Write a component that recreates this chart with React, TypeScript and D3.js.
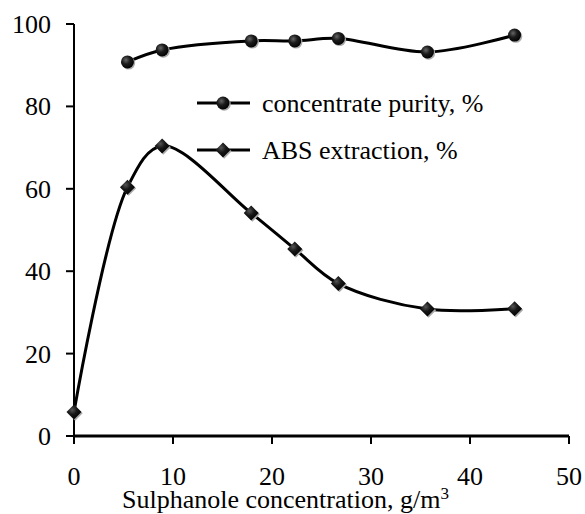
import React, { useEffect, useRef } from "react";
import * as d3 from "d3";

const purityX = [5.4, 8.9, 17.9, 22.3, 26.7, 35.7, 44.5];
const purityY = [90.8, 93.7, 95.9, 95.9, 96.5, 93.2, 97.3];
const absX = [0, 5.4, 8.9, 17.9, 22.3, 26.7, 35.7, 44.5];
const absY = [5.8, 60.4, 70.4, 54.1, 45.4, 37.0, 30.8, 30.9];
const xTicks = [0, 10, 20, 30, 40, 50];
const yTicks = [0, 20, 40, 60, 80, 100];
const legendLabels = ["concentrate purity, %", "ABS extraction, %"];
const xTitle = "Sulphanole concentration, g/m";
const xTitleSup = "3";

const FONT = "Times New Roman";

export default function App() {
  const ref = useRef<SVGSVGElement>(null);
  const W = 585, H = 514;

  useEffect(() => {
    const svg = d3.select(ref.current);
    svg.selectAll("*").remove();
    const x = d3.scaleLinear().domain([0, 50]).range([74, 569]);
    const y = d3.scaleLinear().domain([0, 100]).range([436, 24]);
    const line = d3
      .line<[number, number]>()
      .x((d) => x(d[0]))
      .y((d) => y(d[1]))
      .curve(d3.curveCatmullRom.alpha(0.5));
    const purity: [number, number][] = purityX.map((v, i) => [v, purityY[i]]);
    const abs: [number, number][] = absX.map((v, i) => [v, absY[i]]);

    const defs = svg.append("defs");
    const grad = (id: string, c0: string, c1: string) => {
      const g = defs.append("radialGradient").attr("id", id).attr("cx", 0.38).attr("cy", 0.35).attr("r", 0.7);
      g.append("stop").attr("offset", 0).attr("stop-color", c0);
      g.append("stop").attr("offset", 0.45).attr("stop-color", c1);
      g.append("stop").attr("offset", 1).attr("stop-color", "#000");
    };
    grad("gc", "#666", "#1c1c1c");
    grad("gd", "#555", "#161616");

    svg.append("rect").attr("width", W).attr("height", H).attr("fill", "#fff");

    const addText = (tx: number, ty: number, s: string, anchor = "start") =>
      svg
        .append("text")
        .attr("x", tx)
        .attr("y", ty)
        .attr("text-anchor", anchor)
        .attr("font-family", FONT)
        .attr("font-size", 26)
        .style("font-family", "'Times New Roman', 'Liberation Serif', serif")
        .style("font-size", "26px")
        .text(s);

    // axes
    svg.append("line").attr("x1", x(0)).attr("x2", x(0)).attr("y1", y(100)).attr("y2", y(0))
      .attr("stroke", "#000").attr("stroke-width", 2);
    svg.append("line").attr("x1", x(0) - 1).attr("x2", x(50)).attr("y1", y(0)).attr("y2", y(0))
      .attr("stroke", "#000").attr("stroke-width", 3);
    yTicks.forEach((t) => {
      svg.append("line").attr("x1", x(0) - 8).attr("x2", x(0)).attr("y1", y(t)).attr("y2", y(t))
        .attr("stroke", "#000").attr("stroke-width", 2);
      addText(51, y(t) + 9, String(t), "end");
    });
    xTicks.forEach((t) => {
      svg.append("line").attr("x1", x(t)).attr("x2", x(t)).attr("y1", y(0)).attr("y2", y(0) + 8)
        .attr("stroke", "#000").attr("stroke-width", 2);
      addText(x(t), 485, String(t), "middle");
    });
    const title = addText(122, 508, xTitle);
    title.append("tspan").attr("dy", -9).attr("font-size", 17).style("font-size", "17px").text(xTitleSup);

    // series
    svg.append("path").attr("d", line(purity) || "").attr("fill", "none").attr("stroke", "#000").attr("stroke-width", 3);
    svg.append("path").attr("d", line(abs) || "").attr("fill", "none").attr("stroke", "#000").attr("stroke-width", 3);

    const circle = (cx: number, cy: number) => {
      svg.append("circle").attr("cx", cx + 1.2).attr("cy", cy + 1.2).attr("r", 6.5).attr("fill", "#aaa");
      svg.append("circle").attr("cx", cx).attr("cy", cy).attr("r", 6.5).attr("fill", "url(#gc)");
    };
    const diamondPath = (cx: number, cy: number) => {
      const s = 7.5;
      return `M${cx},${cy - s}L${cx + s},${cy}L${cx},${cy + s}L${cx - s},${cy}Z`;
    };
    const diamond = (cx: number, cy: number) => {
      svg.append("path").attr("d", diamondPath(cx + 1.2, cy + 1.2)).attr("fill", "#aaa");
      svg.append("path").attr("d", diamondPath(cx, cy)).attr("fill", "url(#gd)");
    };
    purity.forEach((d) => circle(x(d[0]), y(d[1])));
    abs.forEach((d) => diamond(x(d[0]), y(d[1])));

    // legend
    svg.append("line").attr("x1", 197).attr("x2", 250).attr("y1", 103).attr("y2", 103)
      .attr("stroke", "#000").attr("stroke-width", 3);
    circle(223, 103);
    addText(262, 112, legendLabels[0]);
    svg.append("line").attr("x1", 197).attr("x2", 250).attr("y1", 150).attr("y2", 150)
      .attr("stroke", "#000").attr("stroke-width", 3);
    diamond(223, 150);
    addText(262, 159, legendLabels[1]);
  }, []);

  return <svg ref={ref} width={W} height={H} style={{ position: "absolute", left: 0, top: 0 }} />;
}
